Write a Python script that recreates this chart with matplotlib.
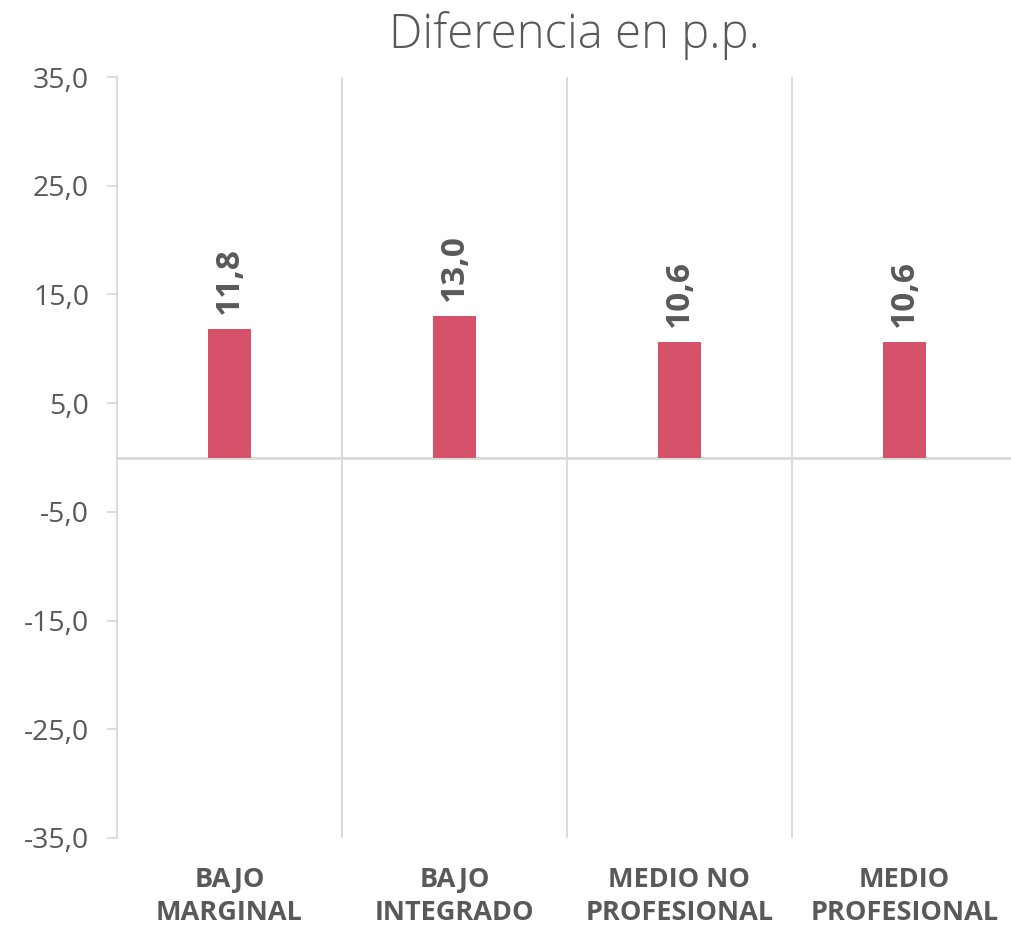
import matplotlib
matplotlib.use("Agg")
import matplotlib.pyplot as plt
from matplotlib.ticker import FuncFormatter

categorias = ["BAJO\nMARGINAL", "BAJO\nINTEGRADO", "MEDIO NO\nPROFESIONAL", "MEDIO\nPROFESIONAL"]
valores = [11.8, 13.0, 10.6, 10.6]
yticks = [-35, -25, -15, -5, 5, 15, 25, 35]

gris = "#595959"
linea = "#d9d9d9"
rojo = "#d6526b"

plt.rcParams['font.family'] = ['Open Sans', 'DejaVu Sans']

fig = plt.figure(figsize=(10.12, 9.31), dpi=100)
ax = fig.add_axes([117/1012, 93/931, 900/1012, 761/931])

x = range(len(valores))
ax.bar(x, valores, width=0.187, color=rojo, zorder=3)

ax.set_xlim(-0.5, len(valores) - 0.5)
ax.set_ylim(-35, 35)
ax.set_yticks(yticks)
ax.yaxis.set_major_formatter(FuncFormatter(lambda v, p: f"{v:.1f}".replace(".", ",")))
ax.tick_params(axis='y', colors=linea, length=7, width=1.3, labelsize=20.5, labelcolor=gris, pad=13)

# separadores entre categorías
for b in [0.5, 1.5, 2.5]:
    ax.axvline(b, color=linea, lw=1.3, zorder=1)
ax.axhline(0, color=linea, lw=2, zorder=2)

ax.set_xticks(list(x))
ax.set_xticklabels(categorias, fontsize=19.5, fontweight='bold', color=gris, linespacing=1.32)
ax.tick_params(axis='x', length=0, pad=21)

for s in ['top', 'right', 'bottom']:
    ax.spines[s].set_visible(False)
ax.spines['left'].set_color(linea)
ax.spines['left'].set_linewidth(1.3)

for i, v in enumerate(valores):
    ax.annotate(f"{v:.1f}".replace(".", ","), (i, v), xytext=(0, 11), textcoords='offset points',
                rotation=90, ha='center', va='bottom', fontsize=24, fontweight='bold', color=gris)

fig.text(574/1012, 1 - 36/931, "Diferencia en p.p.", ha='center', va='center',
         fontsize=34, fontweight='light', color=gris)

fig.savefig("out.png", dpi=100)
